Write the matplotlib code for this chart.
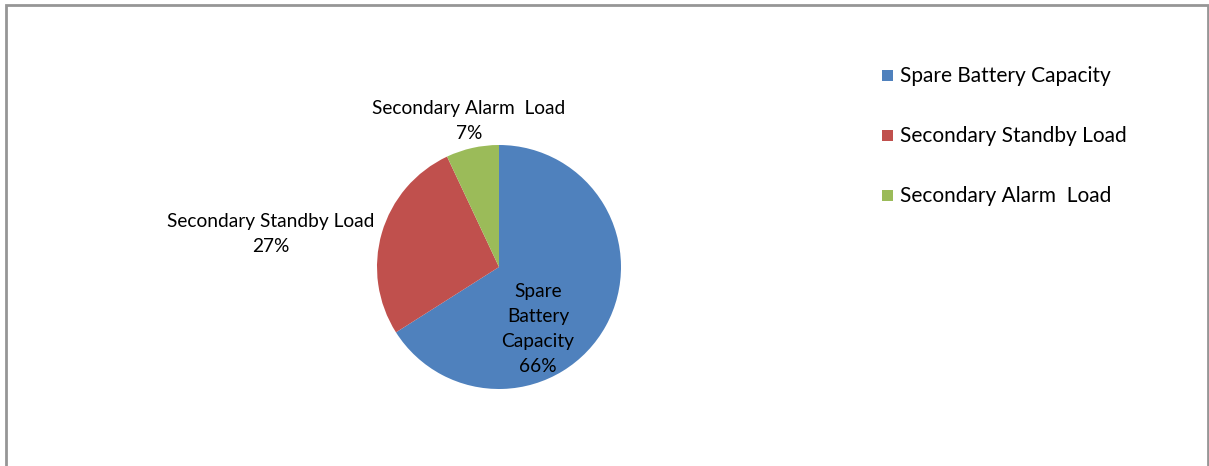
import matplotlib
matplotlib.use("Agg")
import matplotlib.pyplot as plt
from matplotlib.patches import Rectangle

categories = ["Spare Battery Capacity", "Secondary Standby Load", "Secondary Alarm  Load"]
values = [66, 27, 7]
colors = ["#4F81BD", "#C0504D", "#9BBB59"]

plt.rcParams["font.family"] = ["Lato", "DejaVu Sans"]

W, H = 1209, 466
fig = plt.figure(figsize=(W / 100, H / 100), dpi=100)
ax = fig.add_axes([0, 0, 1, 1])
ax.set_xlim(0, W)
ax.set_ylim(0, H)
ax.set_axis_off()

# outer chart border (open at the bottom edge)
fig.add_artist(Rectangle((5.5 / W, -0.1), (1208 - 5.5) / W, (H - 5.5) / H + 0.1,
                         transform=fig.transFigure, fill=False,
                         edgecolor="#969696", linewidth=2.0))

cx, cy, r = 499, H - 267, 122
wedges, _ = ax.pie(values, colors=colors, startangle=90, counterclock=False,
                   center=(cx, cy), radius=r, frame=True,
                   wedgeprops=dict(linewidth=0))
ax.set_xlim(0, W)
ax.set_ylim(0, H)
ax.set_axis_off()

fs = 13.8
ls = 1.58
pct = [f"{v}%" for v in values]
ax.text(538, H - 329, "Spare\nBattery\nCapacity\n" + pct[0], ha="center", va="center",
        fontsize=fs, color="black", linespacing=ls)
ax.text(271, H - 234, categories[1] + "\n" + pct[1], ha="center", va="center",
        fontsize=fs, color="black", linespacing=ls)
ax.text(469, H - 121, categories[2] + "\n" + pct[2], ha="center", va="center",
        fontsize=fs, color="black", linespacing=ls)

# legend
for i, (lab, col) in enumerate(zip(categories, colors)):
    y = H - (75 + 60 * i)
    ax.add_patch(Rectangle((882, y - 5.5), 11, 11, facecolor=col, edgecolor="none"))
    ax.text(900, y - 1.5, lab, ha="left", va="center", fontsize=15, color="black")

fig.savefig("out.png", dpi=100)
